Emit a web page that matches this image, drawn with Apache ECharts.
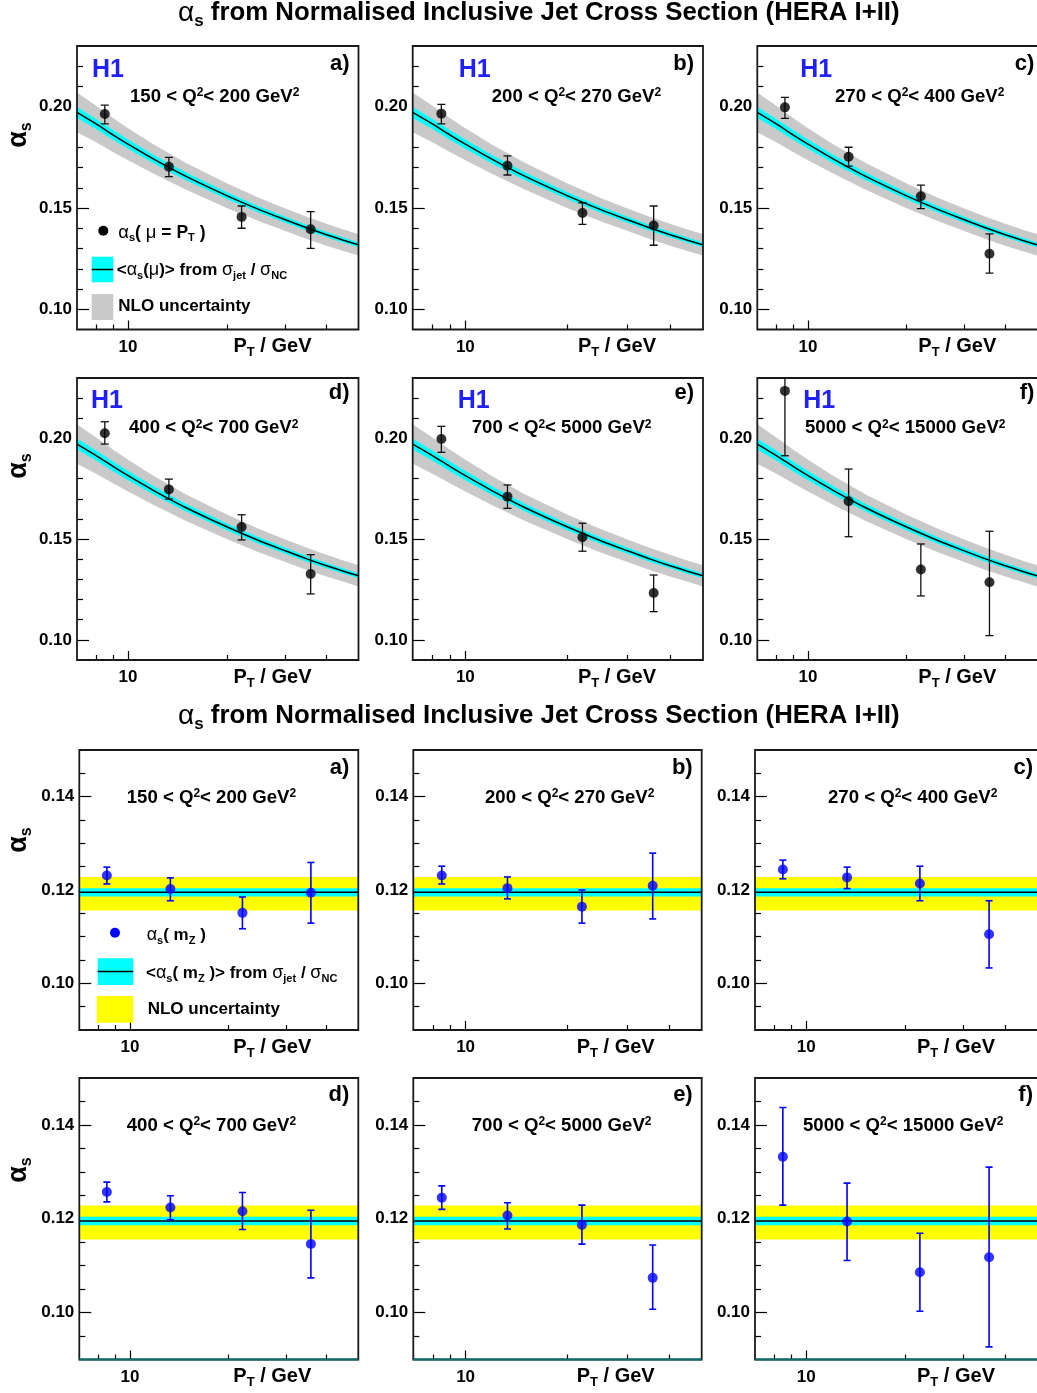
<!DOCTYPE html>
<html><head><meta charset="utf-8">
<script src="https://cdn.jsdelivr.net/npm/echarts@6/dist/echarts.min.js"></script>
<style>html,body{margin:0;padding:0;background:#fff}#c{width:1037px;height:1393px}</style>
</head><body><div id="c"></div>
<script>
// ---------------- data ----------------
const PANEL_TAGS = ['a)', 'b)', 'c)', 'd)', 'e)', 'f)'];
const Q2_LOW = ['150', '200', '270', '400', '700', '5000'];
const Q2_HIGH = ['200', '270', '400', '700', '5000', '15000'];
const PT_POINTS = [8.5, 13.3, 22.1, 35.8];

// alpha_s(mu = PT), per panel a..f
const AS_MU = [
  [0.1964, 0.1704, 0.1456, 0.1395],
  [0.1966, 0.1709, 0.1475, 0.1414],
  [0.1997, 0.1753, 0.1558, 0.1274],
  [0.2026, 0.1747, 0.1560, 0.1327],
  [0.1997, 0.1711, 0.1509, 0.1233],
  [0.2236, 0.1688, 0.1349, 0.1286]
];
const AS_MU_LOW = [
  [0.1915, 0.1655, 0.1400, 0.1301],
  [0.1915, 0.1663, 0.1419, 0.1316],
  [0.1943, 0.1707, 0.1497, 0.1178],
  [0.1972, 0.1699, 0.1496, 0.1228],
  [0.1931, 0.1653, 0.1440, 0.1140],
  [0.1914, 0.1512, 0.1218, 0.1021]
];
const AS_MU_HIGH = [
  [0.2008, 0.1750, 0.1510, 0.1482],
  [0.2012, 0.1757, 0.1526, 0.1510],
  [0.2046, 0.1800, 0.1613, 0.1372],
  [0.2083, 0.1798, 0.1621, 0.1423],
  [0.2060, 0.1769, 0.1579, 0.1322],
  [0.2350, 0.1848, 0.1476, 0.1539]
];

// alpha_s(mZ), per panel a..f
const AS_MZ = [
  [0.1231, 0.1202, 0.1151, 0.1194],
  [0.1231, 0.1204, 0.1164, 0.1209],
  [0.1244, 0.1227, 0.1214, 0.1105],
  [0.1257, 0.1224, 0.1216, 0.1146],
  [0.1245, 0.1207, 0.1187, 0.1074],
  [0.1332, 0.1194, 0.1086, 0.1118]
];
const AS_MZ_LOW = [
  [0.1213, 0.1177, 0.1117, 0.1129],
  [0.1213, 0.1181, 0.1129, 0.1138],
  [0.1224, 0.1203, 0.1177, 0.1033],
  [0.1236, 0.1198, 0.1177, 0.1074],
  [0.1220, 0.1178, 0.1146, 0.1007],
  [0.1229, 0.1111, 0.1003, 0.0927]
];
const AS_MZ_HIGH = [
  [0.1249, 0.1226, 0.1185, 0.1259],
  [0.1251, 0.1228, 0.1200, 0.1279],
  [0.1264, 0.1249, 0.1251, 0.1177],
  [0.1278, 0.1249, 0.1256, 0.1218],
  [0.1270, 0.1234, 0.1229, 0.1144],
  [0.1437, 0.1276, 0.1169, 0.1310]
];

// running <alpha_s(mu)> curve and its bands
const CURVE_PT = [7, 8, 9, 10, 12, 15, 20, 25, 30, 35, 40, 45, 50];
const CURVE_AS = [0.1972, 0.1915, 0.1861, 0.1815, 0.1740, 0.1656, 0.1560, 0.1492, 0.1442, 0.1401, 0.1368, 0.1341, 0.1318];
const CURVE_EXP_LOW = [0.1945, 0.1890, 0.1837, 0.1792, 0.1719, 0.1637, 0.1543, 0.1476, 0.1427, 0.1387, 0.1355, 0.1328, 0.1306];
const CURVE_EXP_HIGH = [0.1999, 0.1940, 0.1885, 0.1838, 0.1761, 0.1675, 0.1577, 0.1508, 0.1457, 0.1415, 0.1381, 0.1354, 0.1330];
const CURVE_NLO_LOW = [0.1874, 0.1825, 0.1777, 0.1736, 0.1668, 0.1590, 0.1499, 0.1434, 0.1386, 0.1346, 0.1314, 0.1288, 0.1265];
const CURVE_NLO_HIGH = [0.2070, 0.2005, 0.1945, 0.1894, 0.1812, 0.1722, 0.1621, 0.1550, 0.1498, 0.1456, 0.1422, 0.1394, 0.1371];

// <alpha_s(mZ)> average and bands
const MZ_PT = [7, 50];
const MZ_AVG = [0.1195, 0.1195];
const MZ_EXP_LOW = [0.1186, 0.1186];
const MZ_EXP_HIGH = [0.1204, 0.1204];
const MZ_NLO_LOW = [0.1156, 0.1156];
const MZ_NLO_HIGH = [0.1228, 0.1228];

// ticks
const X_TICK_LABELS = [10];
const X_TICKS_MAJOR = [10];
const X_TICKS_MINOR = [8, 9, 20, 30, 40];
const Y_LABELS_TOP = [0.10, 0.15, 0.20];
const Y_MINOR_TOP = [0.11, 0.12, 0.13, 0.14, 0.16, 0.17, 0.18, 0.19, 0.21, 0.22];
const Y_LABELS_BOT = [0.10, 0.12, 0.14];
const Y_MINOR_BOT = [0.095, 0.105, 0.11, 0.115, 0.125, 0.13, 0.135, 0.145];

// ---------------- layout / style ----------------
const F = '"Liberation Sans", Arial, Helvetica, sans-serif';
const GRAY = '#c9c9c9', CYAN = '#00ffff', YELLOW = '#ffff00', BLUE = '#0000ff', H1BLUE = '#1f1fff';
const ROWS = [
  {top: 46, h: 283.5, lefts: [77, 412.7, 757.3], widths: [281.5, 290.3, 286]},
  {top: 378, h: 282, lefts: [77, 412.7, 757.3], widths: [281.5, 290.3, 286]},
  {top: 750, h: 280, lefts: [79.3, 413.3, 755], widths: [279, 288.4, 287]},
  {top: 1078, h: 281.5, lefts: [79.3, 413.3, 755], widths: [279, 288.4, 287]}
];
const TAG_DY = [18, 15, 17.5, 17];
const Q_LEFT = [[130, 491.7, 835], [129, 471.7, 805], [126.7, 485, 828], [126.7, 471.7, 803]];
const Q_Y = [96.7, 428.3, 797.5, 1125.8];
const H1_DX = [[15, 46, 43], [14, 45, 46]];
const H1_Y = [70, 400.7];
const YTITLE_Y = [135, 466, 840, 1170];

function rich(fs, colorKey) {
  const L = Math.round(fs * 1.7);
  const s = Math.round(fs * 0.65);
  const c = colorKey || 'fill';
  const o = {
    n: {fontSize: fs, fontWeight: 'bold', fontFamily: F, lineHeight: L},
    g: {fontSize: fs + 1, fontWeight: 'normal', fontFamily: F, lineHeight: L},
    gb: {fontSize: fs + 3, fontWeight: 'bold', fontFamily: F, lineHeight: L},
    sub: {fontSize: s, fontWeight: 'bold', fontFamily: F, lineHeight: L, padding: [Math.round(fs * 0.62), 0, 0, 0]},
    sup: {fontSize: s, fontWeight: 'bold', fontFamily: F, lineHeight: L, padding: [0, 0, Math.round(fs * 0.42), 0]}
  };
  Object.keys(o).forEach(k => { o[k][c] = '#000'; });
  return o;
}
function txt(x, y, text, fs, align, extra) {
  return Object.assign({
    type: 'text', x: x, y: y, z: 110, silent: true,
    style: {text: text, align: align || 'left', verticalAlign: 'middle', rich: rich(fs),
            fontSize: fs, fontWeight: 'bold', fontFamily: F, fill: '#000'}
  }, extra || {});
}

const grids = [], xAxes = [], yAxes = [], series = [], gfx = [];

function band(g, xs, lo, hi, color, z) {
  const data = xs.map((x, i) => [x, lo[i], hi[i]]);
  return {
    type: 'custom', xAxisIndex: 2 * g, yAxisIndex: 2 * g, data: data, clip: true, silent: true, z: z,
    encode: {x: 0, y: [1, 2]},
    renderItem: function (params, api) {
      if (params.dataIndex !== 0) return null;
      const up = data.map(d => api.coord([d[0], d[2]]));
      const dn = data.map(d => api.coord([d[0], d[1]])).reverse();
      return {type: 'polygon', shape: {points: up.concat(dn)}, style: {fill: color}};
    }
  };
}
function errbar(g, xs, lo, hi, color, w, lw) {
  const data = xs.map((x, i) => [x, lo[i], hi[i]]);
  return {
    type: 'custom', xAxisIndex: 2 * g, yAxisIndex: 2 * g, data: data, clip: true, silent: true, z: 4,
    encode: {x: 0, y: [1, 2]},
    renderItem: function (params, api) {
      const x = api.value(0);
      const a = api.coord([x, api.value(1)]), b = api.coord([x, api.value(2)]);
      const st = {stroke: color, lineWidth: lw};
      return {type: 'group', children: [
        {type: 'line', shape: {x1: a[0], y1: a[1], x2: b[0], y2: b[1]}, style: st},
        {type: 'line', shape: {x1: a[0] - w, y1: a[1], x2: a[0] + w, y2: a[1]}, style: st},
        {type: 'line', shape: {x1: b[0] - w, y1: b[1], x2: b[0] + w, y2: b[1]}, style: st}
      ]};
    }
  };
}

const tickLbl = {fontSize: 17, fontWeight: 'bold', fontFamily: F, color: '#000'};

for (let r = 0; r < 4; r++) {
  for (let c = 0; c < 3; c++) {
    const isTop = r < 2;
    const pi = (r % 2) * 3 + c;
    const R = ROWS[r];
    const left = R.lefts[c], width = R.widths[c], top = R.top, h = R.h;
    const g = grids.length;
    grids.push({left: left, top: top, width: width, height: h, show: false});
    const ymin = 0.09, ymax = isTop ? 0.23 : 0.15;
    const noLine = {show: false, onZero: false};
    xAxes.push({gridIndex: g, type: 'log', logBase: 10, min: 7, max: 50, position: 'bottom',
      axisLine: noLine, splitLine: {show: false},
      axisTick: {show: true, inside: true, length: 5, customValues: X_TICKS_MINOR, lineStyle: {color: '#000', width: 1.2}},
      axisLabel: Object.assign({show: true, customValues: X_TICK_LABELS, margin: 9, formatter: v => String(Math.round(v))}, tickLbl)});
    xAxes.push({gridIndex: g, type: 'log', logBase: 10, min: 7, max: 50, position: 'bottom',
      axisLine: noLine, splitLine: {show: false},
      axisTick: {show: true, inside: true, length: 9, customValues: X_TICKS_MAJOR, lineStyle: {color: '#000', width: 1.2}},
      axisLabel: {show: false}});
    yAxes.push({gridIndex: g, type: 'value', min: ymin, max: ymax, position: 'left',
      axisLine: noLine, splitLine: {show: false},
      axisTick: {show: true, inside: true, length: 12, customValues: isTop ? Y_LABELS_TOP : Y_LABELS_BOT, lineStyle: {color: '#000', width: 1.2}},
      axisLabel: Object.assign({show: true, customValues: isTop ? Y_LABELS_TOP : Y_LABELS_BOT, margin: 5, formatter: v => v.toFixed(2)}, tickLbl)});
    yAxes.push({gridIndex: g, type: 'value', min: ymin, max: ymax, position: 'left',
      axisLine: noLine, splitLine: {show: false},
      axisTick: {show: true, inside: true, length: 6, customValues: isTop ? Y_MINOR_TOP : Y_MINOR_BOT, lineStyle: {color: '#000', width: 1.2}},
      axisLabel: {show: false}});

    if (isTop) {
      series.push(band(g, CURVE_PT, CURVE_NLO_LOW, CURVE_NLO_HIGH, GRAY, 1));
      series.push(band(g, CURVE_PT, CURVE_EXP_LOW, CURVE_EXP_HIGH, CYAN, 2));
      series.push({type: 'line', name: '<αs(μ)>', xAxisIndex: 2 * g, yAxisIndex: 2 * g, z: 3, silent: true,
        data: CURVE_PT.map((x, i) => [x, CURVE_AS[i]]), smooth: 0.3, showSymbol: false,
        lineStyle: {color: '#000', width: 1.5}});
      series.push(errbar(g, PT_POINTS, AS_MU_LOW[pi], AS_MU_HIGH[pi], '#111', 4, 1.3));
      series.push({type: 'scatter', name: 'αs(μ = PT)', xAxisIndex: 2 * g, yAxisIndex: 2 * g, z: 5, silent: true,
        data: PT_POINTS.map((x, i) => [x, AS_MU[pi][i]]), symbolSize: 10, itemStyle: {color: '#000'}});
    } else {
      series.push(band(g, MZ_PT, MZ_NLO_LOW, MZ_NLO_HIGH, YELLOW, 1));
      series.push(band(g, MZ_PT, MZ_EXP_LOW, MZ_EXP_HIGH, CYAN, 2));
      series.push({type: 'line', name: '<αs(mZ)>', xAxisIndex: 2 * g, yAxisIndex: 2 * g, z: 3, silent: true,
        data: MZ_PT.map((x, i) => [x, MZ_AVG[i]]), showSymbol: false,
        lineStyle: {color: '#000', width: 1.5}});
      series.push(errbar(g, PT_POINTS, AS_MZ_LOW[pi], AS_MZ_HIGH[pi], BLUE, 3.5, 1.6));
      series.push({type: 'scatter', name: 'αs(mZ)', xAxisIndex: 2 * g, yAxisIndex: 2 * g, z: 5, silent: true,
        data: PT_POINTS.map((x, i) => [x, AS_MZ[pi][i]]), symbolSize: 10, itemStyle: {color: BLUE}});
    }

    // frame
    gfx.push({type: 'rect', z: 100, silent: true, shape: {x: left, y: top, width: width, height: h},
      style: {fill: 'none', stroke: '#1a1a1a', lineWidth: 1.8}});
    if (r === 3) {
      gfx.push({type: 'line', z: 101, silent: true, shape: {x1: left, y1: top + h, x2: left + width, y2: top + h},
        style: {stroke: '#0b6f6f', lineWidth: 1.8}});
    }
    // panel tag
    gfx.push(txt(left + width - 9, top + TAG_DY[r], '{n|' + PANEL_TAGS[pi] + '}', 22, 'right'));
    // Q2 range
    gfx.push(txt(Q_LEFT[r][c], Q_Y[r], '{n|' + Q2_LOW[pi] + ' < Q}{sup|2}{n|< ' + Q2_HIGH[pi] + ' GeV}{sup|2}', 18.6, 'left'));
    // x title
    gfx.push(txt(left + width - 47, top + h + 17, '{n|P}{sub|T}{n| / GeV}', 20, 'right'));
    // H1
    if (isTop) {
      gfx.push({type: 'text', x: left + H1_DX[r][c], y: H1_Y[r], z: 110, silent: true,
        style: {text: 'H1', fontSize: 25, fontWeight: 'bold', fontFamily: F, fill: H1BLUE, align: 'left', verticalAlign: 'middle'}});
    }
    // y title
    if (c === 0) {
      gfx.push(txt(19, YTITLE_Y[r], '{gb|α}{sub|s}', 24, 'center', {rotation: Math.PI / 2}));
    }
  }
}

// legends
gfx.push({type: 'circle', z: 110, silent: true, shape: {cx: 103.3, cy: 230.7, r: 5}, style: {fill: '#000'}});
gfx.push(txt(118.3, 232.7, '{g|α}{sub|s}{n|( }{g|μ}{n| = P}{sub|T}{n| )}', 17.5));
gfx.push({type: 'rect', z: 110, silent: true, shape: {x: 91.7, y: 256.7, width: 21.6, height: 25.6}, style: {fill: CYAN}});
gfx.push({type: 'line', z: 111, silent: true, shape: {x1: 91.7, y1: 269.5, x2: 113.3, y2: 269.5}, style: {stroke: '#000', lineWidth: 1.5}});
gfx.push(txt(116.7, 270, '{n|<}{g|α}{sub|s}{n|(}{g|μ}{n|)> from }{g|σ}{sub|jet}{n| / }{g|σ}{sub|NC}', 17));
gfx.push({type: 'rect', z: 110, silent: true, shape: {x: 91.7, y: 294, width: 21.6, height: 26}, style: {fill: GRAY}});
gfx.push(txt(118.3, 306.7, '{n|NLO uncertainty}', 17));

gfx.push({type: 'circle', z: 110, silent: true, shape: {cx: 115, cy: 932.7, r: 5}, style: {fill: BLUE}});
gfx.push(txt(146.7, 935, '{g|α}{sub|s}{n|( m}{sub|Z}{n| )}', 17));
gfx.push({type: 'rect', z: 110, silent: true, shape: {x: 97.7, y: 958.3, width: 35.6, height: 26.7}, style: {fill: CYAN}});
gfx.push({type: 'line', z: 111, silent: true, shape: {x1: 97.7, y1: 971.5, x2: 133.3, y2: 971.5}, style: {stroke: '#000', lineWidth: 1.5}});
gfx.push(txt(146, 973, '{n|<}{g|α}{sub|s}{n|( m}{sub|Z}{n| )> from }{g|σ}{sub|jet}{n| / }{g|σ}{sub|NC}', 17));
gfx.push({type: 'rect', z: 110, silent: true, shape: {x: 96.7, y: 996, width: 36.6, height: 26.7}, style: {fill: YELLOW}});
gfx.push(txt(147.7, 1009.3, '{n|NLO uncertainty}', 17));

const TITLE_TEXT = '{g|α}{sub|s}{n| from Normalised Inclusive Jet Cross Section (HERA I+II)}';
const titleRich = rich(25.8, 'color');
titleRich.g.fontSize = 28;
titleRich.n.lineHeight = titleRich.g.lineHeight = titleRich.sub.lineHeight = 30;

const chart = echarts.init(document.getElementById('c'), null, {renderer: 'canvas', width: 1037, height: 1393});
chart.setOption({
  animation: false,
  backgroundColor: '#fff',
  title: [
    {left: 178, top: -2, padding: 0, text: TITLE_TEXT, textStyle: {rich: titleRich, fontSize: 25.8, fontWeight: 'bold', fontFamily: F, color: '#000'}},
    {left: 178, top: 701, padding: 0, text: TITLE_TEXT, textStyle: {rich: titleRich, fontSize: 25.8, fontWeight: 'bold', fontFamily: F, color: '#000'}}
  ],
  grid: grids,
  xAxis: xAxes,
  yAxis: yAxes,
  series: series,
  graphic: {elements: gfx}
});
</script>
</body></html>
